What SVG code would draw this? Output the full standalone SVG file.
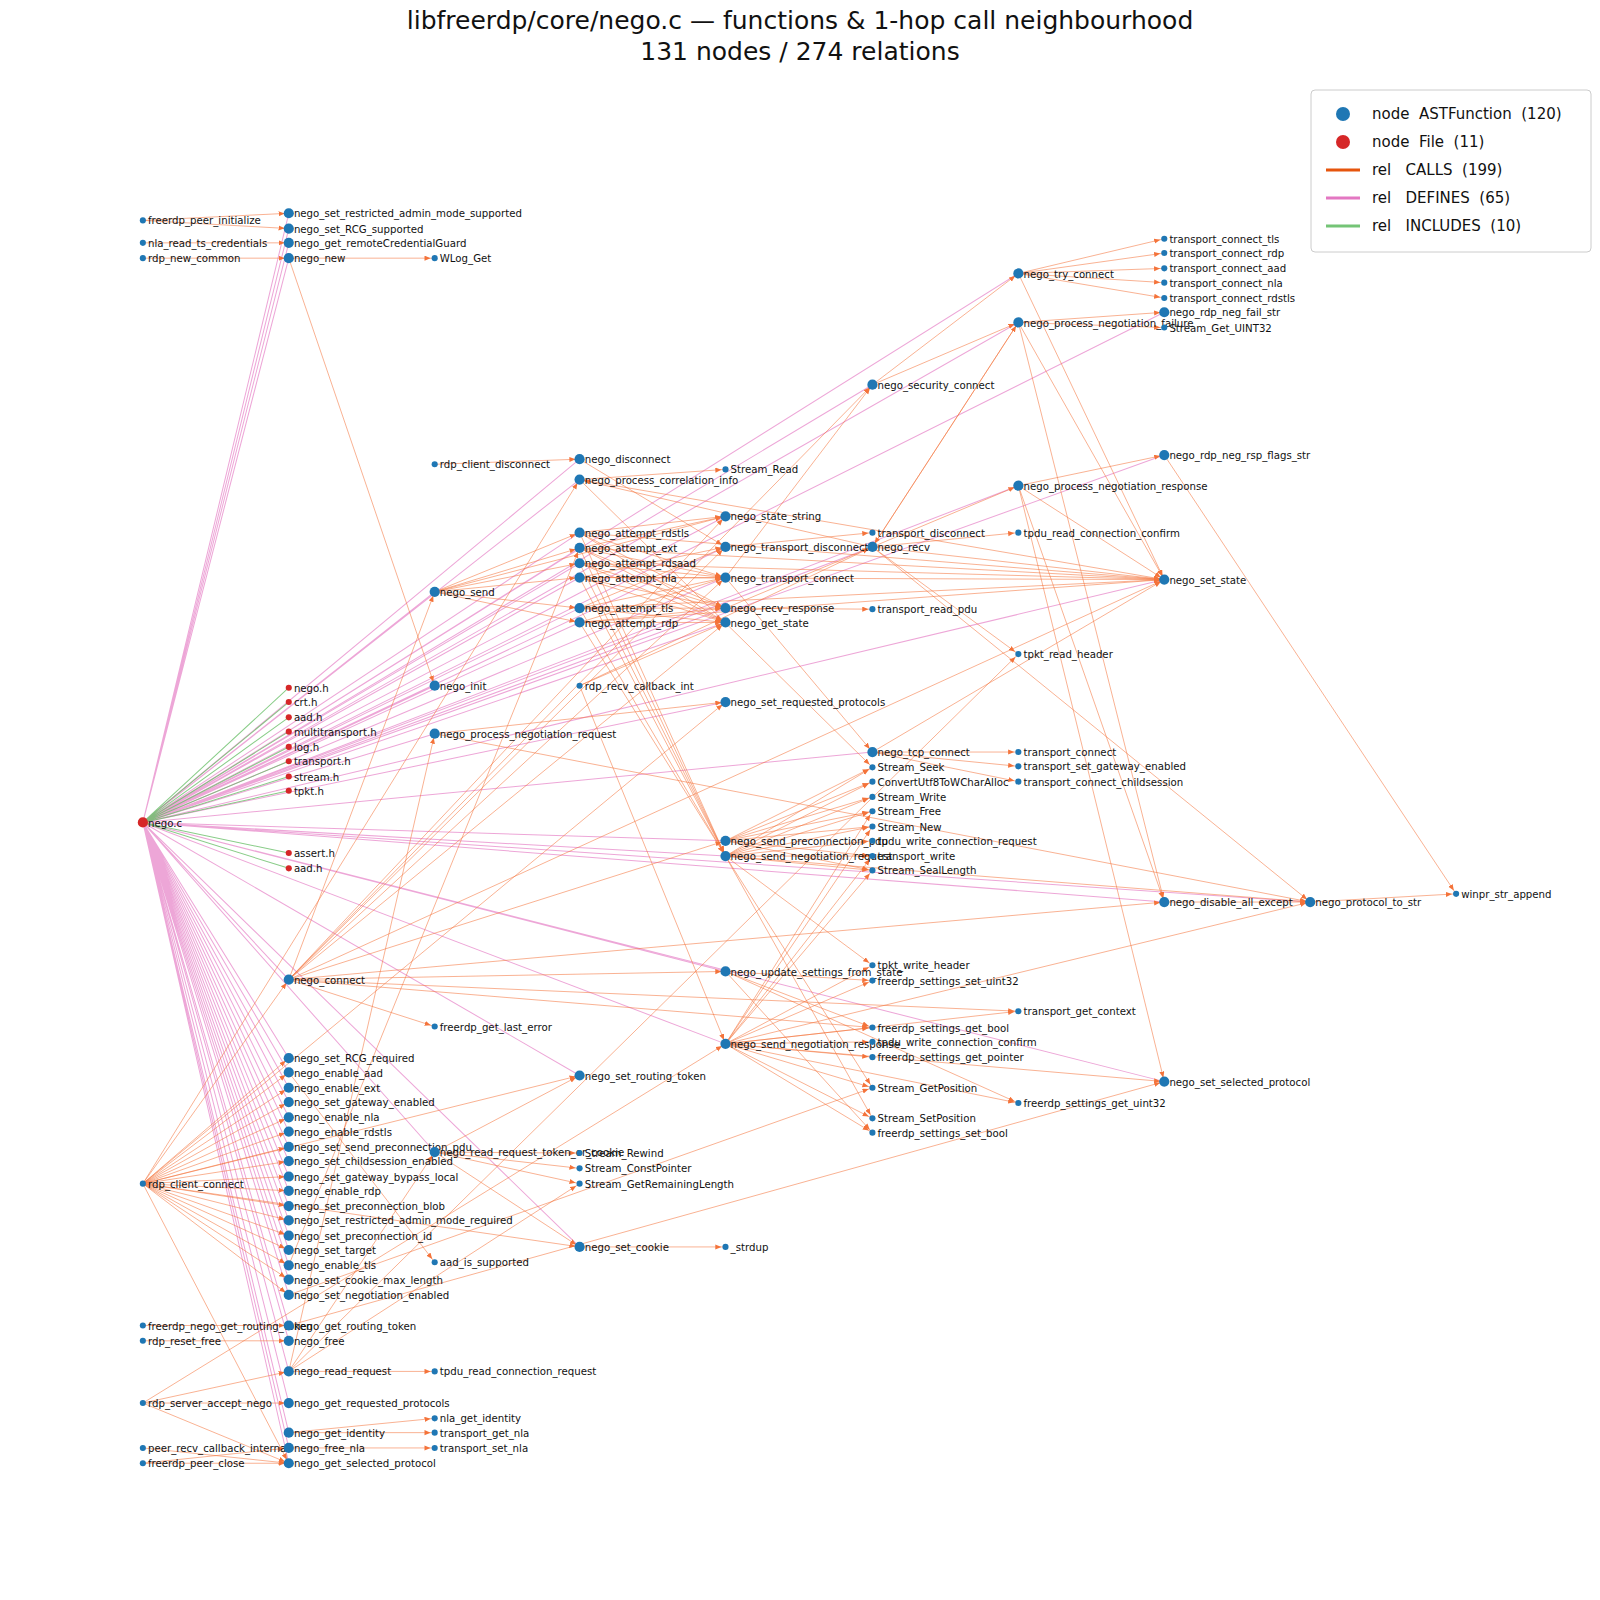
<svg xmlns="http://www.w3.org/2000/svg" width="1600" height="1600" viewBox="0 0 1600 1600">
<style>
text{font-family:"DejaVu Sans",sans-serif;font-size:10px;fill:#111}
.t{font-size:25px;text-anchor:middle}
.lg{font-size:15px;white-space:pre}
.c line{stroke:#f4733a;stroke-opacity:.6;stroke-width:.9;marker-end:url(#a)}
.d{stroke:#e377c2;stroke-opacity:.65;stroke-width:1;fill:none}
.i{stroke:#6abf69;stroke-opacity:.8;stroke-width:1;fill:none}
.f circle{fill:#1f77b4}
.s circle{fill:#1f77b4}
.r circle{fill:#d62728}
</style>
<defs><marker id="a" markerUnits="userSpaceOnUse" markerWidth="8" markerHeight="6" refX="10" refY="2.5" orient="auto"><path d="M0,0L6,2.5L0,5z" fill="#f4733a"/></marker></defs>
<rect width="1600" height="1600" fill="#fff"/>
<text class="t" x="800" y="29">libfreerdp/core/nego.c — functions &amp; 1-hop call neighbourhood</text>
<text class="t" x="800" y="60">131 nodes / 274 relations</text>
<g id="legend">
<rect x="1311" y="90" width="280" height="162" rx="4" fill="#fff" stroke="#ccc"/>
<circle cx="1343" cy="114" r="7" fill="#1f77b4"/><text class="lg" x="1372" y="119">node  ASTFunction  (120)</text>
<circle cx="1343" cy="142" r="7" fill="#d62728"/><text class="lg" x="1372" y="147">node  File  (11)</text>
<line x1="1326" y1="170" x2="1360" y2="170" stroke="#e6550d" stroke-width="3"/><text class="lg" x="1372" y="175">rel   CALLS  (199)</text>
<line x1="1326" y1="198" x2="1360" y2="198" stroke="#e377c2" stroke-width="3"/><text class="lg" x="1372" y="203">rel   DEFINES  (65)</text>
<line x1="1326" y1="226" x2="1360" y2="226" stroke="#74c476" stroke-width="3"/><text class="lg" x="1372" y="231">rel   INCLUDES  (10)</text>
</g>
<g id="connectors" transform="scale(1.0204)">
<path class="d" d="M140 806L283 209M140 806L283 224M140 806L283 238M140 806L283 253M140 806L283 960M140 806L283 1037M140 806L283 1051M140 806L283 1066M140 806L283 1080M140 806L283 1095M140 806L283 1109M140 806L283 1124M140 806L283 1138M140 806L283 1153M140 806L283 1167M140 806L283 1182M140 806L283 1196M140 806L283 1211M140 806L283 1225M140 806L283 1240M140 806L283 1254M140 806L283 1269M140 806L283 1299M140 806L283 1314M140 806L283 1344M140 806L283 1375M140 806L283 1404M140 806L283 1419M140 806L283 1434M140 806L426 580M140 806L426 672M140 806L426 719M140 806L426 1129M140 806L568 450M140 806L568 470M140 806L568 522M140 806L568 537M140 806L568 552M140 806L568 566M140 806L568 596M140 806L568 610M140 806L568 1054M140 806L568 1222M140 806L711 506M140 806L711 536M140 806L711 566M140 806L711 596M140 806L711 610M140 806L711 688M140 806L711 824M140 806L711 839M140 806L711 952M140 806L711 1023M140 806L855 377M140 806L855 536M140 806L855 737M140 806L998 268M140 806L998 316M140 806L998 476M140 806L1141 306M140 806L1141 446M140 806L1141 568M140 806L1141 884M140 806L1141 1060M140 806L1284 884"/>
<path class="i" d="M140 806L283 674M140 806L283 688M140 806L283 703M140 806L283 717M140 806L283 732M140 806L283 746M140 806L283 761M140 806L283 775M140 806L283 836M140 806L283 851"/>
<g class="c">
<line x1="140" y1="216" x2="283" y2="209"/><line x1="140" y1="216" x2="283" y2="224"/><line x1="140" y1="238" x2="283" y2="238"/><line x1="140" y1="253" x2="283" y2="253"/>
<line x1="283" y1="253" x2="426" y2="253"/><line x1="283" y1="253" x2="426" y2="672"/>
<line x1="426" y1="455" x2="568" y2="450"/><line x1="568" y1="450" x2="711" y2="536"/>
<line x1="568" y1="470" x2="711" y2="460"/><line x1="568" y1="470" x2="1141" y2="568"/><line x1="568" y1="470" x2="855" y2="752"/>
<line x1="568" y1="522" x2="711" y2="566"/><line x1="568" y1="522" x2="711" y2="839"/><line x1="568" y1="522" x2="711" y2="596"/><line x1="568" y1="522" x2="711" y2="610"/><line x1="568" y1="522" x2="1141" y2="568"/><line x1="568" y1="522" x2="711" y2="506"/>
<line x1="568" y1="537" x2="711" y2="566"/><line x1="568" y1="537" x2="711" y2="839"/><line x1="568" y1="537" x2="711" y2="596"/><line x1="568" y1="537" x2="711" y2="610"/><line x1="568" y1="537" x2="1141" y2="568"/><line x1="568" y1="537" x2="711" y2="506"/>
<line x1="568" y1="552" x2="711" y2="566"/><line x1="568" y1="552" x2="711" y2="839"/><line x1="568" y1="552" x2="711" y2="596"/><line x1="568" y1="552" x2="711" y2="610"/><line x1="568" y1="552" x2="1141" y2="568"/>
<line x1="568" y1="566" x2="711" y2="566"/><line x1="568" y1="566" x2="711" y2="839"/><line x1="568" y1="566" x2="711" y2="596"/><line x1="568" y1="566" x2="711" y2="610"/><line x1="568" y1="566" x2="1141" y2="568"/><line x1="568" y1="566" x2="711" y2="536"/>
<line x1="568" y1="596" x2="711" y2="566"/><line x1="568" y1="596" x2="711" y2="839"/><line x1="568" y1="596" x2="711" y2="596"/><line x1="568" y1="596" x2="711" y2="610"/><line x1="568" y1="596" x2="1141" y2="568"/><line x1="568" y1="596" x2="711" y2="536"/>
<line x1="568" y1="610" x2="711" y2="566"/><line x1="568" y1="610" x2="711" y2="839"/><line x1="568" y1="610" x2="711" y2="596"/><line x1="568" y1="610" x2="711" y2="610"/><line x1="568" y1="610" x2="1141" y2="568"/>
<line x1="426" y1="580" x2="568" y2="522"/><line x1="426" y1="580" x2="568" y2="537"/><line x1="426" y1="580" x2="568" y2="552"/><line x1="426" y1="580" x2="568" y2="566"/><line x1="426" y1="580" x2="568" y2="596"/><line x1="426" y1="580" x2="568" y2="610"/><line x1="426" y1="580" x2="711" y2="506"/>
<line x1="283" y1="960" x2="426" y2="580"/><line x1="283" y1="960" x2="711" y2="610"/><line x1="283" y1="960" x2="1141" y2="568"/><line x1="283" y1="960" x2="711" y2="506"/><line x1="283" y1="960" x2="855" y2="377"/><line x1="283" y1="960" x2="711" y2="566"/><line x1="283" y1="960" x2="711" y2="952"/><line x1="283" y1="960" x2="426" y2="1006"/><line x1="283" y1="960" x2="711" y2="536"/><line x1="283" y1="960" x2="711" y2="824"/><line x1="283" y1="960" x2="998" y2="991"/><line x1="283" y1="960" x2="855" y2="1007"/><line x1="283" y1="960" x2="1141" y2="884"/>
<line x1="711" y1="596" x2="855" y2="597"/><line x1="711" y1="596" x2="855" y2="536"/>
<line x1="855" y1="536" x2="998" y2="641"/><line x1="855" y1="536" x2="998" y2="522"/><line x1="855" y1="536" x2="998" y2="476"/><line x1="855" y1="536" x2="998" y2="316"/><line x1="855" y1="536" x2="1141" y2="568"/><line x1="855" y1="536" x2="568" y2="470"/><line x1="855" y1="536" x2="1284" y2="884"/>
<line x1="568" y1="672" x2="855" y2="536"/><line x1="568" y1="672" x2="711" y2="610"/><line x1="568" y1="672" x2="711" y2="1023"/>
<line x1="711" y1="566" x2="855" y2="737"/><line x1="711" y1="566" x2="855" y2="377"/>
<line x1="855" y1="377" x2="998" y2="268"/><line x1="855" y1="377" x2="998" y2="316"/>
<line x1="998" y1="268" x2="1141" y2="234"/><line x1="998" y1="268" x2="1141" y2="248"/><line x1="998" y1="268" x2="1141" y2="263"/><line x1="998" y1="268" x2="1141" y2="277"/><line x1="998" y1="268" x2="1141" y2="292"/><line x1="998" y1="268" x2="1141" y2="568"/>
<line x1="855" y1="737" x2="998" y2="737"/><line x1="855" y1="737" x2="998" y2="751"/><line x1="855" y1="737" x2="998" y2="766"/><line x1="855" y1="737" x2="1141" y2="568"/>
<line x1="711" y1="536" x2="855" y2="522"/>
<line x1="998" y1="316" x2="1141" y2="306"/><line x1="998" y1="316" x2="1141" y2="321"/><line x1="998" y1="316" x2="1141" y2="568"/><line x1="998" y1="316" x2="1141" y2="884"/><line x1="998" y1="316" x2="855" y2="536"/>
<line x1="998" y1="476" x2="1141" y2="446"/><line x1="998" y1="476" x2="1141" y2="568"/><line x1="998" y1="476" x2="1141" y2="1060"/><line x1="998" y1="476" x2="1141" y2="884"/>
<line x1="1141" y1="446" x2="1427" y2="876"/><line x1="1284" y1="884" x2="1427" y2="876"/><line x1="1141" y1="884" x2="1284" y2="884"/>
<line x1="711" y1="839" x2="855" y2="752"/><line x1="711" y1="839" x2="855" y2="766"/><line x1="711" y1="839" x2="855" y2="781"/><line x1="711" y1="839" x2="855" y2="795"/><line x1="711" y1="839" x2="855" y2="810"/><line x1="711" y1="839" x2="855" y2="824"/><line x1="711" y1="839" x2="855" y2="839"/><line x1="711" y1="839" x2="855" y2="853"/><line x1="711" y1="839" x2="855" y2="946"/><line x1="711" y1="839" x2="855" y2="1066"/><line x1="711" y1="839" x2="855" y2="1096"/><line x1="711" y1="839" x2="1284" y2="884"/>
<line x1="711" y1="824" x2="855" y2="766"/><line x1="711" y1="824" x2="855" y2="781"/><line x1="711" y1="824" x2="855" y2="795"/><line x1="711" y1="824" x2="855" y2="810"/><line x1="711" y1="824" x2="855" y2="839"/><line x1="711" y1="824" x2="855" y2="853"/><line x1="711" y1="824" x2="855" y2="752"/>
<line x1="711" y1="1023" x2="855" y2="1007"/><line x1="711" y1="1023" x2="855" y2="1021"/><line x1="711" y1="1023" x2="855" y2="1036"/><line x1="711" y1="1023" x2="855" y2="1066"/><line x1="711" y1="1023" x2="855" y2="1096"/><line x1="711" y1="1023" x2="855" y2="1110"/><line x1="711" y1="1023" x2="855" y2="961"/><line x1="711" y1="1023" x2="855" y2="946"/><line x1="711" y1="1023" x2="855" y2="853"/><line x1="711" y1="1023" x2="855" y2="839"/><line x1="711" y1="1023" x2="855" y2="810"/><line x1="711" y1="1023" x2="855" y2="795"/><line x1="711" y1="1023" x2="998" y2="1081"/><line x1="711" y1="1023" x2="998" y2="991"/><line x1="711" y1="1023" x2="1284" y2="884"/><line x1="711" y1="1023" x2="1141" y2="1060"/>
<line x1="711" y1="952" x2="855" y2="961"/><line x1="711" y1="952" x2="855" y2="1110"/><line x1="711" y1="952" x2="855" y2="1007"/><line x1="711" y1="952" x2="998" y2="1081"/>
<line x1="283" y1="1344" x2="426" y2="1344"/><line x1="283" y1="1344" x2="426" y2="1129"/><line x1="283" y1="1344" x2="998" y2="641"/><line x1="283" y1="1344" x2="426" y2="719"/><line x1="283" y1="1344" x2="568" y2="1160"/>
<line x1="426" y1="1129" x2="568" y2="1130"/><line x1="426" y1="1129" x2="568" y2="1145"/><line x1="426" y1="1129" x2="568" y2="1160"/><line x1="426" y1="1129" x2="568" y2="1054"/><line x1="426" y1="1129" x2="568" y2="1222"/>
<line x1="426" y1="719" x2="1284" y2="884"/><line x1="426" y1="719" x2="711" y2="688"/>
<line x1="568" y1="1222" x2="711" y2="1222"/>
<line x1="283" y1="1404" x2="426" y2="1390"/><line x1="283" y1="1404" x2="426" y2="1404"/><line x1="283" y1="1419" x2="426" y2="1419"/>
<line x1="140" y1="1160" x2="283" y2="1037"/><line x1="140" y1="1160" x2="283" y2="1051"/><line x1="140" y1="1160" x2="283" y2="1066"/><line x1="140" y1="1160" x2="283" y2="1080"/><line x1="140" y1="1160" x2="283" y2="1095"/><line x1="140" y1="1160" x2="283" y2="1109"/><line x1="140" y1="1160" x2="283" y2="1124"/><line x1="140" y1="1160" x2="283" y2="1138"/><line x1="140" y1="1160" x2="283" y2="1153"/><line x1="140" y1="1160" x2="283" y2="1167"/><line x1="140" y1="1160" x2="283" y2="1182"/><line x1="140" y1="1160" x2="283" y2="1196"/><line x1="140" y1="1160" x2="283" y2="1211"/><line x1="140" y1="1160" x2="283" y2="1225"/><line x1="140" y1="1160" x2="283" y2="1240"/><line x1="140" y1="1160" x2="283" y2="1254"/><line x1="140" y1="1160" x2="283" y2="1269"/>
<line x1="140" y1="1160" x2="283" y2="960"/><line x1="140" y1="1160" x2="568" y2="1054"/><line x1="140" y1="1160" x2="568" y2="1222"/><line x1="140" y1="1160" x2="711" y2="688"/><line x1="140" y1="1160" x2="568" y2="470"/><line x1="140" y1="1160" x2="283" y2="1434"/>
<line x1="283" y1="1051" x2="426" y2="1237"/><line x1="283" y1="1240" x2="568" y2="537"/><line x1="283" y1="1269" x2="855" y2="1066"/><line x1="283" y1="1299" x2="1141" y2="1060"/>
<line x1="140" y1="1299" x2="283" y2="1299"/><line x1="140" y1="1314" x2="283" y2="1314"/>
<line x1="140" y1="1375" x2="283" y2="1344"/><line x1="140" y1="1375" x2="283" y2="1375"/><line x1="140" y1="1375" x2="711" y2="1023"/><line x1="140" y1="1375" x2="283" y2="1434"/>
<line x1="140" y1="1419" x2="283" y2="1434"/><line x1="140" y1="1434" x2="283" y2="1434"/><line x1="140" y1="1434" x2="283" y2="1419"/>
</g>
</g>
<g id="nodes" transform="scale(1.0204)">
<g id="n_nego_c" class="r"><circle cx="140" cy="806" r="5"/><text x="145" y="810">nego.c</text></g>
<g id="n_fpi" class="s"><circle cx="140" cy="216" r="3"/><text x="145" y="220">freerdp_peer_initialize</text></g>
<g id="n_nrtc" class="s"><circle cx="140" cy="238" r="3"/><text x="145" y="242">nla_read_ts_credentials</text></g>
<g id="n_rnc" class="s"><circle cx="140" cy="253" r="3"/><text x="145" y="257">rdp_new_common</text></g>
<g id="n_rcc" class="s"><circle cx="140" cy="1160" r="3"/><text x="145" y="1164">rdp_client_connect</text></g>
<g id="n_fngrt" class="s"><circle cx="140" cy="1299" r="3"/><text x="145" y="1303">freerdp_nego_get_routing_token</text></g>
<g id="n_rrf" class="s"><circle cx="140" cy="1314" r="3"/><text x="145" y="1318">rdp_reset_free</text></g>
<g id="n_rsan" class="s"><circle cx="140" cy="1375" r="3"/><text x="145" y="1379">rdp_server_accept_nego</text></g>
<g id="n_prci" class="s"><circle cx="140" cy="1419" r="3"/><text x="145" y="1423">peer_recv_callback_internal</text></g>
<g id="n_fpc" class="s"><circle cx="140" cy="1434" r="3"/><text x="145" y="1438">freerdp_peer_close</text></g>
<g id="n_h1" class="r"><circle cx="283" cy="674" r="3"/><text x="288" y="678">nego.h</text></g>
<g id="n_h2" class="r"><circle cx="283" cy="688" r="3"/><text x="288" y="692">crt.h</text></g>
<g id="n_h3" class="r"><circle cx="283" cy="703" r="3"/><text x="288" y="707">aad.h</text></g>
<g id="n_h4" class="r"><circle cx="283" cy="717" r="3"/><text x="288" y="721">multitransport.h</text></g>
<g id="n_h5" class="r"><circle cx="283" cy="732" r="3"/><text x="288" y="736">log.h</text></g>
<g id="n_h6" class="r"><circle cx="283" cy="746" r="3"/><text x="288" y="750">transport.h</text></g>
<g id="n_h7" class="r"><circle cx="283" cy="761" r="3"/><text x="288" y="765">stream.h</text></g>
<g id="n_h8" class="r"><circle cx="283" cy="775" r="3"/><text x="288" y="779">tpkt.h</text></g>
<g id="n_h9" class="r"><circle cx="283" cy="836" r="3"/><text x="288" y="840">assert.h</text></g>
<g id="n_h10" class="r"><circle cx="283" cy="851" r="3"/><text x="288" y="855">aad.h</text></g>
<g id="f1" class="f"><circle cx="283" cy="209" r="5"/><text x="288" y="213">nego_set_restricted_admin_mode_supported</text></g>
<g id="f2" class="f"><circle cx="283" cy="224" r="5"/><text x="288" y="228">nego_set_RCG_supported</text></g>
<g id="f3" class="f"><circle cx="283" cy="238" r="5"/><text x="288" y="242">nego_get_remoteCredentialGuard</text></g>
<g id="f4" class="f"><circle cx="283" cy="253" r="5"/><text x="288" y="257">nego_new</text></g>
<g id="f5" class="f"><circle cx="283" cy="960" r="5"/><text x="288" y="964">nego_connect</text></g>
<g id="f6" class="f"><circle cx="283" cy="1037" r="5"/><text x="288" y="1041">nego_set_RCG_required</text></g>
<g id="f7" class="f"><circle cx="283" cy="1051" r="5"/><text x="288" y="1055">nego_enable_aad</text></g>
<g id="f8" class="f"><circle cx="283" cy="1066" r="5"/><text x="288" y="1070">nego_enable_ext</text></g>
<g id="f9" class="f"><circle cx="283" cy="1080" r="5"/><text x="288" y="1084">nego_set_gateway_enabled</text></g>
<g id="f10" class="f"><circle cx="283" cy="1095" r="5"/><text x="288" y="1099">nego_enable_nla</text></g>
<g id="f11" class="f"><circle cx="283" cy="1109" r="5"/><text x="288" y="1113">nego_enable_rdstls</text></g>
<g id="f12" class="f"><circle cx="283" cy="1124" r="5"/><text x="288" y="1128">nego_set_send_preconnection_pdu</text></g>
<g id="f13" class="f"><circle cx="283" cy="1138" r="5"/><text x="288" y="1142">nego_set_childsession_enabled</text></g>
<g id="f14" class="f"><circle cx="283" cy="1153" r="5"/><text x="288" y="1157">nego_set_gateway_bypass_local</text></g>
<g id="f15" class="f"><circle cx="283" cy="1167" r="5"/><text x="288" y="1171">nego_enable_rdp</text></g>
<g id="f16" class="f"><circle cx="283" cy="1182" r="5"/><text x="288" y="1186">nego_set_preconnection_blob</text></g>
<g id="f17" class="f"><circle cx="283" cy="1196" r="5"/><text x="288" y="1200">nego_set_restricted_admin_mode_required</text></g>
<g id="f18" class="f"><circle cx="283" cy="1211" r="5"/><text x="288" y="1215">nego_set_preconnection_id</text></g>
<g id="f19" class="f"><circle cx="283" cy="1225" r="5"/><text x="288" y="1229">nego_set_target</text></g>
<g id="f20" class="f"><circle cx="283" cy="1240" r="5"/><text x="288" y="1244">nego_enable_tls</text></g>
<g id="f21" class="f"><circle cx="283" cy="1254" r="5"/><text x="288" y="1258">nego_set_cookie_max_length</text></g>
<g id="f22" class="f"><circle cx="283" cy="1269" r="5"/><text x="288" y="1273">nego_set_negotiation_enabled</text></g>
<g id="f23" class="f"><circle cx="283" cy="1299" r="5"/><text x="288" y="1303">nego_get_routing_token</text></g>
<g id="f24" class="f"><circle cx="283" cy="1314" r="5"/><text x="288" y="1318">nego_free</text></g>
<g id="f25" class="f"><circle cx="283" cy="1344" r="5"/><text x="288" y="1348">nego_read_request</text></g>
<g id="f26" class="f"><circle cx="283" cy="1375" r="5"/><text x="288" y="1379">nego_get_requested_protocols</text></g>
<g id="f27" class="f"><circle cx="283" cy="1404" r="5"/><text x="288" y="1408">nego_get_identity</text></g>
<g id="f28" class="f"><circle cx="283" cy="1419" r="5"/><text x="288" y="1423">nego_free_nla</text></g>
<g id="f29" class="f"><circle cx="283" cy="1434" r="5"/><text x="288" y="1438">nego_get_selected_protocol</text></g>
<g id="s1" class="s"><circle cx="426" cy="253" r="3"/><text x="431" y="257">WLog_Get</text></g>
<g id="s2" class="s"><circle cx="426" cy="455" r="3"/><text x="431" y="459">rdp_client_disconnect</text></g>
<g id="f30" class="f"><circle cx="426" cy="580" r="5"/><text x="431" y="584">nego_send</text></g>
<g id="f31" class="f"><circle cx="426" cy="672" r="5"/><text x="431" y="676">nego_init</text></g>
<g id="f32" class="f"><circle cx="426" cy="719" r="5"/><text x="431" y="723">nego_process_negotiation_request</text></g>
<g id="s3" class="s"><circle cx="426" cy="1006" r="3"/><text x="431" y="1010">freerdp_get_last_error</text></g>
<g id="f33" class="f"><circle cx="426" cy="1129" r="5"/><text x="431" y="1133">nego_read_request_token_or_cookie</text></g>
<g id="s4" class="s"><circle cx="426" cy="1237" r="3"/><text x="431" y="1241">aad_is_supported</text></g>
<g id="s5" class="s"><circle cx="426" cy="1344" r="3"/><text x="431" y="1348">tpdu_read_connection_request</text></g>
<g id="s6" class="s"><circle cx="426" cy="1390" r="3"/><text x="431" y="1394">nla_get_identity</text></g>
<g id="s7" class="s"><circle cx="426" cy="1404" r="3"/><text x="431" y="1408">transport_get_nla</text></g>
<g id="s8" class="s"><circle cx="426" cy="1419" r="3"/><text x="431" y="1423">transport_set_nla</text></g>
<g id="f34" class="f"><circle cx="568" cy="450" r="5"/><text x="573" y="454">nego_disconnect</text></g>
<g id="f35" class="f"><circle cx="568" cy="470" r="5"/><text x="573" y="474">nego_process_correlation_info</text></g>
<g id="f36" class="f"><circle cx="568" cy="522" r="5"/><text x="573" y="526">nego_attempt_rdstls</text></g>
<g id="f37" class="f"><circle cx="568" cy="537" r="5"/><text x="573" y="541">nego_attempt_ext</text></g>
<g id="f38" class="f"><circle cx="568" cy="552" r="5"/><text x="573" y="556">nego_attempt_rdsaad</text></g>
<g id="f39" class="f"><circle cx="568" cy="566" r="5"/><text x="573" y="570">nego_attempt_nla</text></g>
<g id="f40" class="f"><circle cx="568" cy="596" r="5"/><text x="573" y="600">nego_attempt_tls</text></g>
<g id="f41" class="f"><circle cx="568" cy="610" r="5"/><text x="573" y="614">nego_attempt_rdp</text></g>
<g id="s9" class="s"><circle cx="568" cy="672" r="3"/><text x="573" y="676">rdp_recv_callback_int</text></g>
<g id="f42" class="f"><circle cx="568" cy="1054" r="5"/><text x="573" y="1058">nego_set_routing_token</text></g>
<g id="s10" class="s"><circle cx="568" cy="1130" r="3"/><text x="573" y="1134">Stream_Rewind</text></g>
<g id="s11" class="s"><circle cx="568" cy="1145" r="3"/><text x="573" y="1149">Stream_ConstPointer</text></g>
<g id="s12" class="s"><circle cx="568" cy="1160" r="3"/><text x="573" y="1164">Stream_GetRemainingLength</text></g>
<g id="f43" class="f"><circle cx="568" cy="1222" r="5"/><text x="573" y="1226">nego_set_cookie</text></g>
<g id="s13" class="s"><circle cx="711" cy="460" r="3"/><text x="716" y="464">Stream_Read</text></g>
<g id="f44" class="f"><circle cx="711" cy="506" r="5"/><text x="716" y="510">nego_state_string</text></g>
<g id="f45" class="f"><circle cx="711" cy="536" r="5"/><text x="716" y="540">nego_transport_disconnect</text></g>
<g id="f46" class="f"><circle cx="711" cy="566" r="5"/><text x="716" y="570">nego_transport_connect</text></g>
<g id="f47" class="f"><circle cx="711" cy="596" r="5"/><text x="716" y="600">nego_recv_response</text></g>
<g id="f48" class="f"><circle cx="711" cy="610" r="5"/><text x="716" y="614">nego_get_state</text></g>
<g id="f49" class="f"><circle cx="711" cy="688" r="5"/><text x="716" y="692">nego_set_requested_protocols</text></g>
<g id="f50" class="f"><circle cx="711" cy="824" r="5"/><text x="716" y="828">nego_send_preconnection_pdu</text></g>
<g id="f51" class="f"><circle cx="711" cy="839" r="5"/><text x="716" y="843">nego_send_negotiation_request</text></g>
<g id="f52" class="f"><circle cx="711" cy="952" r="5"/><text x="716" y="956">nego_update_settings_from_state</text></g>
<g id="f53" class="f"><circle cx="711" cy="1023" r="5"/><text x="716" y="1027">nego_send_negotiation_response</text></g>
<g id="s14" class="s"><circle cx="711" cy="1222" r="3"/><text x="716" y="1226">_strdup</text></g>
<g id="f54" class="f"><circle cx="855" cy="377" r="5"/><text x="860" y="381">nego_security_connect</text></g>
<g id="s15" class="s"><circle cx="855" cy="522" r="3"/><text x="860" y="526">transport_disconnect</text></g>
<g id="f55" class="f"><circle cx="855" cy="536" r="5"/><text x="860" y="540">nego_recv</text></g>
<g id="s16" class="s"><circle cx="855" cy="597" r="3"/><text x="860" y="601">transport_read_pdu</text></g>
<g id="f56" class="f"><circle cx="855" cy="737" r="5"/><text x="860" y="741">nego_tcp_connect</text></g>
<g id="s17" class="s"><circle cx="855" cy="752" r="3"/><text x="860" y="756">Stream_Seek</text></g>
<g id="s18" class="s"><circle cx="855" cy="766" r="3"/><text x="860" y="770">ConvertUtf8ToWCharAlloc</text></g>
<g id="s19" class="s"><circle cx="855" cy="781" r="3"/><text x="860" y="785">Stream_Write</text></g>
<g id="s20" class="s"><circle cx="855" cy="795" r="3"/><text x="860" y="799">Stream_Free</text></g>
<g id="s21" class="s"><circle cx="855" cy="810" r="3"/><text x="860" y="814">Stream_New</text></g>
<g id="s22" class="s"><circle cx="855" cy="824" r="3"/><text x="860" y="828">tpdu_write_connection_request</text></g>
<g id="s23" class="s"><circle cx="855" cy="839" r="3"/><text x="860" y="843">transport_write</text></g>
<g id="s24" class="s"><circle cx="855" cy="853" r="3"/><text x="860" y="857">Stream_SealLength</text></g>
<g id="s25" class="s"><circle cx="855" cy="946" r="3"/><text x="860" y="950">tpkt_write_header</text></g>
<g id="s26" class="s"><circle cx="855" cy="961" r="3"/><text x="860" y="965">freerdp_settings_set_uint32</text></g>
<g id="s27" class="s"><circle cx="855" cy="1007" r="3"/><text x="860" y="1011">freerdp_settings_get_bool</text></g>
<g id="s28" class="s"><circle cx="855" cy="1021" r="3"/><text x="860" y="1025">tpdu_write_connection_confirm</text></g>
<g id="s29" class="s"><circle cx="855" cy="1036" r="3"/><text x="860" y="1040">freerdp_settings_get_pointer</text></g>
<g id="s30" class="s"><circle cx="855" cy="1066" r="3"/><text x="860" y="1070">Stream_GetPosition</text></g>
<g id="s31" class="s"><circle cx="855" cy="1096" r="3"/><text x="860" y="1100">Stream_SetPosition</text></g>
<g id="s32" class="s"><circle cx="855" cy="1110" r="3"/><text x="860" y="1114">freerdp_settings_set_bool</text></g>
<g id="f57" class="f"><circle cx="998" cy="268" r="5"/><text x="1003" y="272">nego_try_connect</text></g>
<g id="f58" class="f"><circle cx="998" cy="316" r="5"/><text x="1003" y="320">nego_process_negotiation_failure</text></g>
<g id="f59" class="f"><circle cx="998" cy="476" r="5"/><text x="1003" y="480">nego_process_negotiation_response</text></g>
<g id="s33" class="s"><circle cx="998" cy="522" r="3"/><text x="1003" y="526">tpdu_read_connection_confirm</text></g>
<g id="s34" class="s"><circle cx="998" cy="641" r="3"/><text x="1003" y="645">tpkt_read_header</text></g>
<g id="s35" class="s"><circle cx="998" cy="737" r="3"/><text x="1003" y="741">transport_connect</text></g>
<g id="s36" class="s"><circle cx="998" cy="751" r="3"/><text x="1003" y="755">transport_set_gateway_enabled</text></g>
<g id="s37" class="s"><circle cx="998" cy="766" r="3"/><text x="1003" y="770">transport_connect_childsession</text></g>
<g id="s38" class="s"><circle cx="998" cy="991" r="3"/><text x="1003" y="995">transport_get_context</text></g>
<g id="s39" class="s"><circle cx="998" cy="1081" r="3"/><text x="1003" y="1085">freerdp_settings_get_uint32</text></g>
<g id="s40" class="s"><circle cx="1141" cy="234" r="3"/><text x="1146" y="238">transport_connect_tls</text></g>
<g id="s41" class="s"><circle cx="1141" cy="248" r="3"/><text x="1146" y="252">transport_connect_rdp</text></g>
<g id="s42" class="s"><circle cx="1141" cy="263" r="3"/><text x="1146" y="267">transport_connect_aad</text></g>
<g id="s43" class="s"><circle cx="1141" cy="277" r="3"/><text x="1146" y="281">transport_connect_nla</text></g>
<g id="s44" class="s"><circle cx="1141" cy="292" r="3"/><text x="1146" y="296">transport_connect_rdstls</text></g>
<g id="f60" class="f"><circle cx="1141" cy="306" r="5"/><text x="1146" y="310">nego_rdp_neg_fail_str</text></g>
<g id="s45" class="s"><circle cx="1141" cy="321" r="3"/><text x="1146" y="325">Stream_Get_UINT32</text></g>
<g id="f61" class="f"><circle cx="1141" cy="446" r="5"/><text x="1146" y="450">nego_rdp_neg_rsp_flags_str</text></g>
<g id="f62" class="f"><circle cx="1141" cy="568" r="5"/><text x="1146" y="572">nego_set_state</text></g>
<g id="f63" class="f"><circle cx="1141" cy="884" r="5"/><text x="1146" y="888">nego_disable_all_except</text></g>
<g id="f64" class="f"><circle cx="1141" cy="1060" r="5"/><text x="1146" y="1064">nego_set_selected_protocol</text></g>
<g id="f65" class="f"><circle cx="1284" cy="884" r="5"/><text x="1289" y="888">nego_protocol_to_str</text></g>
<g id="s46" class="s"><circle cx="1427" cy="876" r="3"/><text x="1432" y="880">winpr_str_append</text></g>
</g>
</svg>
